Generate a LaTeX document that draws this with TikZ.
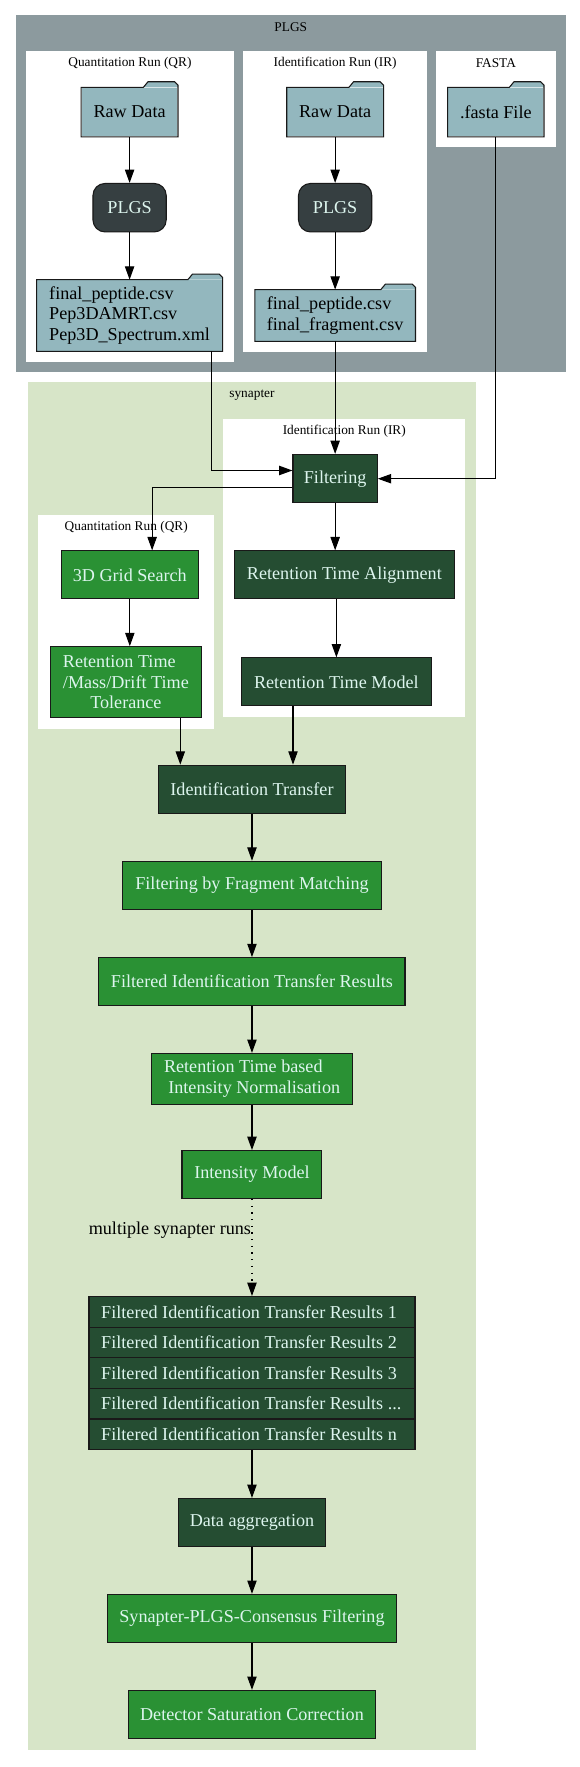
\documentclass[tikz,border=0pt]{standalone}
\usepackage{fontspec}
\setmainfont{Liberation Serif}
\usetikzlibrary{arrows.meta,calc}
\definecolor{plgsbg}{HTML}{8C9A9E}
\definecolor{foldc}{HTML}{93B7BE}
\definecolor{plgsn}{HTML}{363F41}
\definecolor{dgc}{HTML}{254D32}
\definecolor{lgc}{HTML}{2A9134}
\definecolor{synbg}{HTML}{D7E5C8}
\definecolor{txtc}{HTML}{DDF5EE}
\newcommand{\nfont}{\fontsize{13.6}{15.5}\selectfont}
\newcommand{\cfont}{\fontsize{10}{12}\selectfont}
\newcommand{\folderdraw}[1]{%
  \fill[foldc] ($(#1.north east)+(-26pt,0pt)$) -- ++(3.5pt,4.2pt) -- ($(#1.north east)+(-2.5pt,4.2pt)$) -- ($(#1.north east)+(0pt,1.7pt)$) -- (#1.north east) -- cycle;
  \draw[line width=0.8pt, black!90] (#1.south west) -- (#1.north west) -- ($(#1.north east)+(-26pt,0pt)$) -- ++(3.5pt,4.2pt) -- ($(#1.north east)+(-2.5pt,4.2pt)$) -- ($(#1.north east)+(0pt,1.7pt)$) -- (#1.south east) -- cycle;
}
\tikzset{
  box/.style 2 args={line width=0.8pt, minimum width=#1*0.8448pt, minimum height=#2*0.8448pt, inner sep=0pt, font=\nfont, align=center},
  gbox/.style 2 args={box={#1}{#2}, draw=black!90, fill=lgc, text=txtc},
  dbox/.style 2 args={box={#1}{#2}, draw=black!90, fill=dgc, text=txtc},
  fbox/.style 2 args={box={#1}{#2}, fill=foldc, text=black},
  pbox/.style 2 args={box={#1}{#2}, draw=black!90, fill=plgsn, text=txtc, rounded corners=9pt},
  clabel/.style={font=\cfont, inner sep=0pt},
  arr/.style={-{Triangle[length=10pt,width=7pt]}, line width=0.8pt},
}
\begin{document}
\begin{tikzpicture}[x=0.8448pt,y=-0.8448pt]
\useasboundingbox (0,0) rectangle (514,1568);

% clusters
\fill[plgsbg] (13.8,13.3) rectangle (502.5,330.5);
\fill[white] (23,45.3) rectangle (207.6,321);
\fill[white] (215.8,45.3) rectangle (379,312);
\fill[white] (387,45.3) rectangle (493,130.2);
\fill[synbg] (24.7,339.4) rectangle (422.8,1552.5);
\fill[white] (198,371.4) rectangle (413,636.2);
\fill[white] (34,456.6) rectangle (189.8,646.5);

\node[clabel] (lplgs) at (258,24.3) {PLGS};
\node[clabel] (lqr1) at (115.3,56.2) {Quantitation Run (QR)};
\node[clabel] (lir1) at (297.4,56.2) {Identification Run (IR)};
\node[clabel] (lfa) at (440,56.2) {FASTA};
\node[clabel] (lsyn) at (223.6,350.6) {synapter};
\node[clabel] (lir2) at (305.5,382.6) {Identification Run (IR)};
\node[clabel] (lqr2) at (112,467.5) {Quantitation Run (QR)};

% PLGS nodes
\node[fbox={85}{43}] (rawq) at (115,99.5) {Raw Data};
\folderdraw{rawq}
\node[pbox={65}{43}] (plgsq) at (115,184.3) {PLGS};
\node[fbox={164}{62.7}, align=left] (fileq) at (115,280) {final\_peptide.csv\\Pep3DAMRT.csv\\Pep3D\_Spectrum.xml};
\folderdraw{fileq}

\node[fbox={85}{43}] (rawi) at (297.4,99.5) {Raw Data};
\folderdraw{rawi}
\node[pbox={65}{43}] (plgsi) at (297.4,184.3) {PLGS};
\node[fbox={141.6}{45}, align=left] (filei) at (297.4,280) {final\_peptide.csv\\final\_fragment.csv};
\folderdraw{filei}

\node[fbox={84.5}{43}] (fasta) at (440,99.5) {.fasta File};
\folderdraw{fasta}

% synapter nodes
\node[dbox={74.8}{43}] (filt) at (297.4,424.8) {Filtering};
\node[dbox={195.4}{42.6}] (rta) at (305.6,510.1) {Retention Time Alignment};
\node[dbox={168.7}{42.6}] (rtm) at (298.5,605.1) {Retention Time Model};
\node[gbox={121.6}{42.6}] (grid) at (115.2,510.1) {3D Grid Search};
\node[gbox={134.4}{62.7}] (tol) at (111.7,605.2) {\makebox[0pt][l]{Retention Time}\phantom{/Mass/Drift Time}\\/Mass/Drift Time\\Tolerance};
\node[dbox={165.8}{43}] (idt) at (223.6,700.5) {Identification Transfer};
\node[gbox={229.7}{43}] (fbfm) at (223.6,785.8) {Filtering by Fragment Matching};
\node[gbox={271.6}{42.6}] (fitr) at (223.6,871.1) {Filtered Identification Transfer Results};
\node[gbox={177.6}{45.2}] (rtbin) at (223.6,957.4) {Retention Time based\makebox[13pt]{}\\\makebox[3.4pt]{}Intensity Normalisation};
\node[gbox={124.2}{42.6}] (im) at (223.6,1042.3) {Intensity Model};

\node[dbox={289.3}{27.18}] (r1) at (223.6,1164.1) {\makebox[226pt][l]{Filtered Identification Transfer Results 1}};
\node[dbox={289.3}{27.18}] (r2) at (223.6,1191.3) {\makebox[226pt][l]{Filtered Identification Transfer Results 2}};
\node[dbox={289.3}{27.18}] (r3) at (223.6,1218.5) {\makebox[226pt][l]{Filtered Identification Transfer Results 3}};
\node[dbox={289.3}{27.18}] (r4) at (223.6,1245.6) {\makebox[226pt][l]{Filtered Identification Transfer Results ...}};
\node[dbox={289.3}{27.18}] (r5) at (223.6,1272.8) {\makebox[226pt][l]{Filtered Identification Transfer Results n}};

\node[dbox={130.8}{42.6}] (dagg) at (223.6,1351) {Data aggregation};
\node[gbox={256}{42.6}] (spcf) at (223.6,1436.1) {Synapter-PLGS-Consensus Filtering};
\node[gbox={219.2}{42.6}] (dsc) at (223.6,1521.3) {Detector Saturation Correction};

\node[font=\nfont, anchor=east, inner sep=0pt] (lbl) at (223,1092) {multiple synapter runs};

% edges
\draw[arr] (rawq) -- (plgsq);
\draw[arr] (plgsq) -- (fileq);
\draw[arr] (rawi) -- (plgsi);
\draw[arr] (plgsi) -- (filei);
\coordinate (c1) at (187.5,417.5);
\draw[arr] (fileq.south -| c1) -- (c1) -- (c1 -| filt.west);
\draw[arr] (filei) -- (filt);
\draw[arr] (fasta.south) -- (fasta.south |- filt.east) -- (filt.east);
\coordinate (c3) at (135,432.5);
\draw[arr] (c3 -| filt.west) -- (c3) -- (c3 |- grid.north);
\draw[arr] (filt) -- (filt |- rta.north);
\draw[arr] (rta.south -| rtm) -- (rtm.north);
\draw[arr] (grid) -- (grid |- tol.north);
\coordinate (c4) at (160,0);
\coordinate (c5) at (260,0);
\draw[arr] (tol.south -| c4) -- (idt.north -| c4);
\draw[arr] (rtm.south -| c5) -- (idt.north -| c5);
\draw[arr] (idt) -- (fbfm);
\draw[arr] (fbfm) -- (fitr);
\draw[arr] (fitr) -- (rtbin);
\draw[arr] (rtbin) -- (im);
\draw[arr, dash pattern=on 1pt off 4pt] (im) -- (r1);
\draw[arr] (r5) -- (dagg);
\draw[arr] (dagg) -- (spcf);
\draw[arr] (spcf) -- (dsc);
\end{tikzpicture}
\end{document}
